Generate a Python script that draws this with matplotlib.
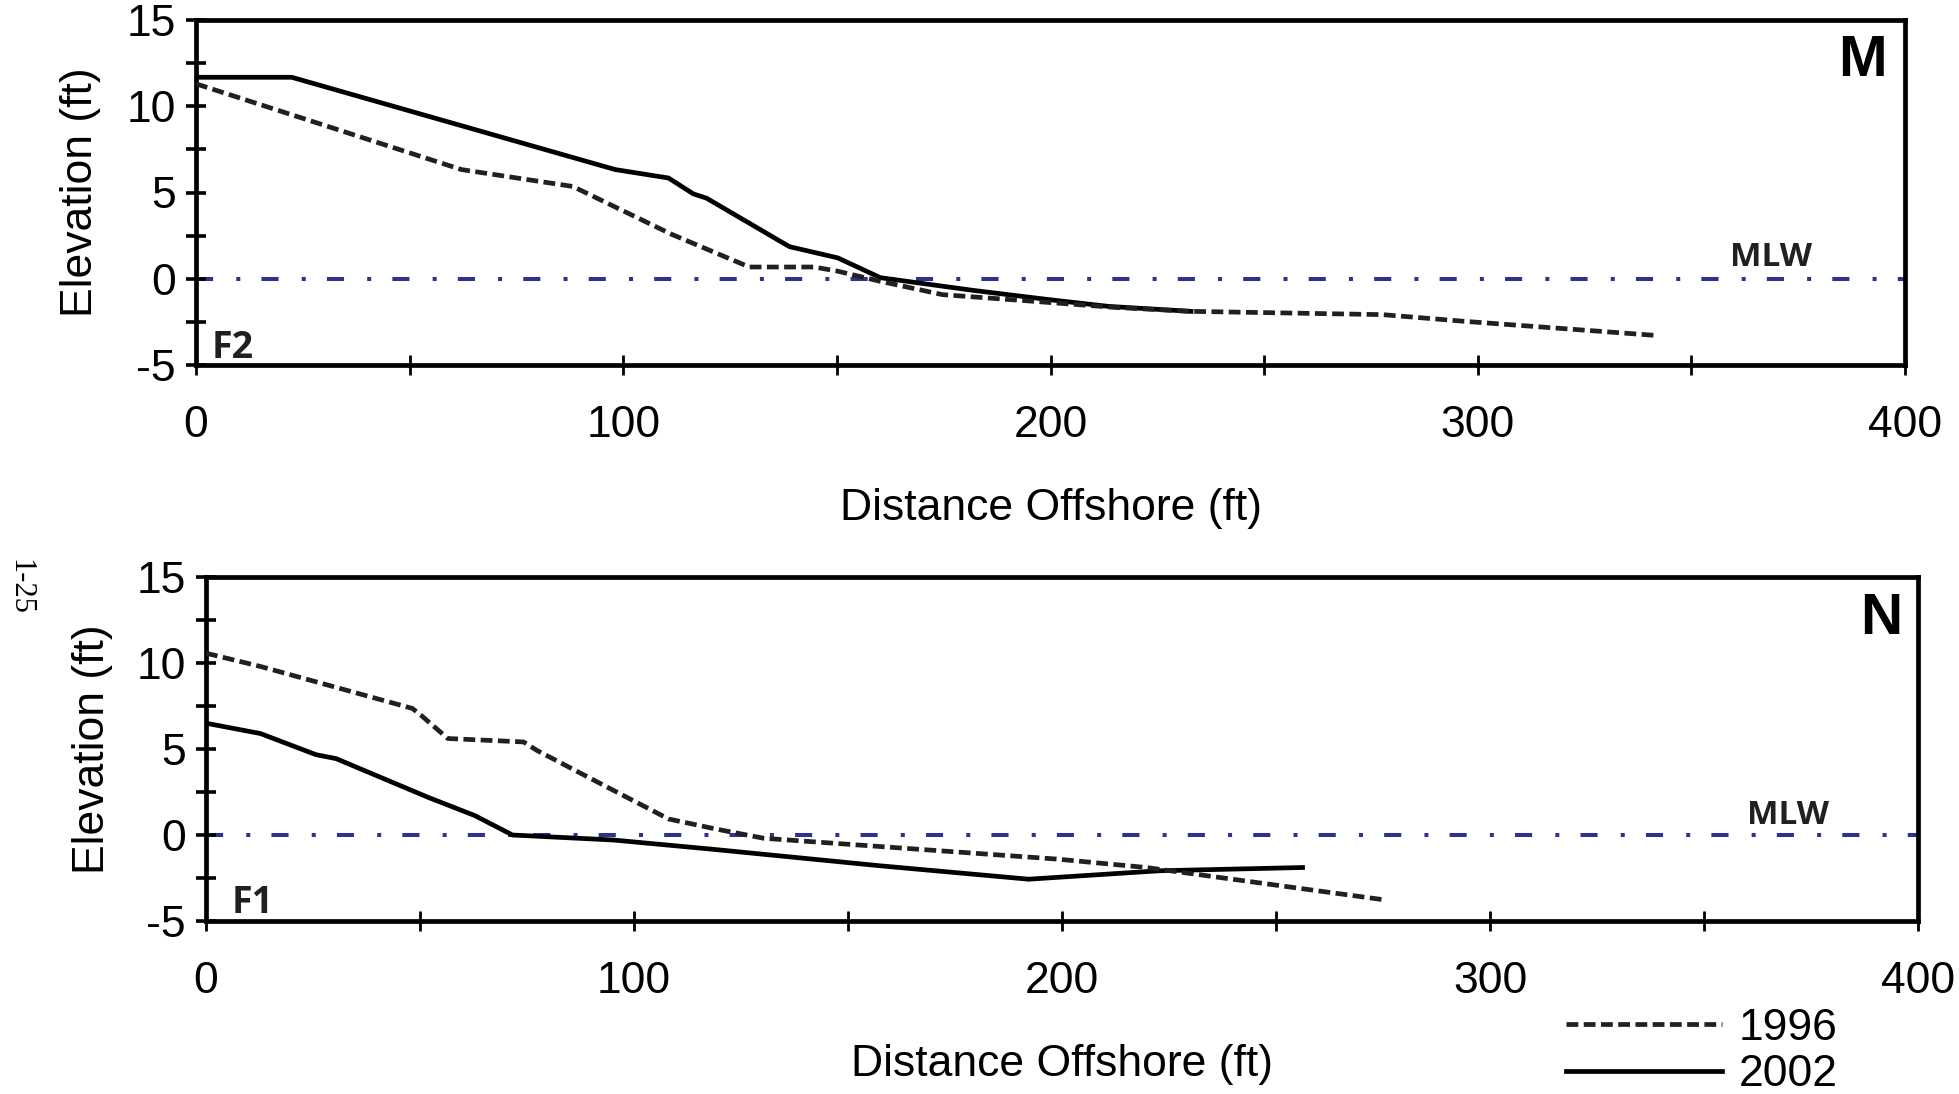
import matplotlib
matplotlib.use("Agg")
import matplotlib.pyplot as plt

# ---------------- data ----------------
# Profile M (F2)
m_1996_x = [0, 62.1, 88.2, 111.2, 129.5, 144.6, 150, 160, 174.7, 195.6, 215, 232.9, 277.7, 297, 341.9]
m_1996_y = [11.3, 6.33, 5.35, 2.59, 0.68, 0.68, 0.45, -0.14, -0.92, -1.3, -1.66, -1.89, -2.08, -2.47, -3.29]
m_2002_x = [0, 22.4, 98.1, 110.6, 116.4, 119.5, 138.9, 150.2, 160.2, 182.1, 199.3, 213.5, 232.9]
m_2002_y = [11.68, 11.68, 6.33, 5.84, 4.92, 4.67, 1.86, 1.21, 0.06, -0.68, -1.2, -1.6, -1.89]

# Profile N (F1)
n_1996_x = [0, 12.7, 48.2, 50.2, 56.5, 74.2, 77.3, 93, 108.1, 119.1, 130.3, 198.8, 219.7, 275.6]
n_1996_y = [10.57, 9.8, 7.36, 6.97, 5.61, 5.41, 4.92, 2.88, 0.93, 0.35, -0.19, -1.4, -1.89, -3.78]
n_2002_x = [0, 12.7, 25.7, 30.4, 51.8, 62.8, 71.6, 95.1, 118, 157.5, 192.2, 222.7, 256.2]
n_2002_y = [6.5, 5.9, 4.67, 4.44, 2.2, 1.13, 0.0, -0.29, -0.82, -1.79, -2.57, -2.08, -1.89]

mlw_level = 0
x_ticks_major = [0, 100, 200, 300, 400]
x_ticks_minor = [50, 150, 250, 350]
y_ticks_major = [-5, 0, 5, 10, 15]
y_ticks_minor = [-2.5, 2.5, 7.5, 12.5]
series_labels = ["1996", "2002"]
panel_letters = ["M", "N"]
profile_ids = ["F2", "F1"]

# ---------------- style ----------------
plt.rcParams['font.family'] = ['Liberation Sans', 'DejaVu Sans']
W, H = 1959, 1094
fig = plt.figure(figsize=(W / 100, H / 100), dpi=100)

axes_rects = [
    [196 / W, 1 - 365 / H, (1905 - 196) / W, (365 - 20) / H],
    [206 / W, 1 - 921 / H, (1918 - 206) / W, (921 - 577) / H],
]
data = [
    (m_1996_x, m_1996_y, m_2002_x, m_2002_y),
    (n_1996_x, n_1996_y, n_2002_x, n_2002_y),
]
letter_pos = [(0.9895, 0.881), (0.9907, 0.877)]
id_pos = [(0.0094, 0.02), (0.015, 0.023)]
mlw_pos = [(359, 1.25), (360, 1.15)]
ylabel_pads = [18, 17]

dash_style = (0, (2.5, 1.15))
mlw_style = (0, (4.25, 5.75, 1.0, 5.25))
lw = 3.4
FS = 32
handles = None
for i, rect in enumerate(axes_rects):
    ax = fig.add_axes(rect)
    x96, y96, x02, y02 = data[i]
    ax.axhline(mlw_level, color='#2E3192', lw=2.9, ls=mlw_style, zorder=1)
    l96, = ax.plot(x96, y96, color='#231F20', lw=lw, ls=dash_style, zorder=3)
    l02, = ax.plot(x02, y02, color='black', lw=lw, ls='-', zorder=2)
    handles = [l96, l02]
    ax.set_xlim(0, 400)
    ax.set_ylim(-5, 15)
    ax.set_xticks(x_ticks_major)
    ax.set_xticks(x_ticks_minor, minor=True)
    ax.set_yticks(y_ticks_major)
    ax.set_yticks(y_ticks_minor, minor=True)
    ax.set_xticklabels([str(v) for v in x_ticks_major])
    ax.set_yticklabels([str(v) for v in y_ticks_major])
    for s in ax.spines.values():
        s.set_linewidth(3.4)
    ax.tick_params(axis='x', which='both', direction='inout', length=14, width=2.0,
                   labelsize=FS, pad=22)
    ax.tick_params(axis='y', which='both', direction='inout', length=14, width=2.6,
                   labelsize=FS, pad=7.5)
    ax.set_xlabel('Distance Offshore (ft)', fontsize=FS, labelpad=30)
    ax.set_ylabel('Elevation (ft)', fontsize=FS, labelpad=ylabel_pads[i])
    ax.text(*letter_pos[i], panel_letters[i], transform=ax.transAxes,
            ha='right', va='center', fontsize=42, fontweight='bold')
    ax.text(*id_pos[i], profile_ids[i], transform=ax.transAxes,
            ha='left', va='baseline', fontsize=27, fontweight='bold',
            family=['Open Sans', 'DejaVu Sans'], color='#231F20')
    ax.text(*mlw_pos[i], 'MLW', ha='left', va='center', fontsize=24,
            fontweight='bold', family=['Open Sans', 'DejaVu Sans'],
            color='#231F20')

fig.text(20 / W, 1 - 587 / H, '1-25', rotation=270, ha='center', va='center',
         fontsize=22, family=['Liberation Serif', 'DejaVu Serif'])

fig.legend(handles, series_labels, loc='upper left',
           bbox_to_anchor=(1566 / W, 1 - 1008 / H), frameon=False,
           fontsize=FS, handlelength=3.5, handletextpad=0.38,
           labelspacing=0.12, borderpad=0, borderaxespad=0)

fig.savefig('out.png', dpi=100)
